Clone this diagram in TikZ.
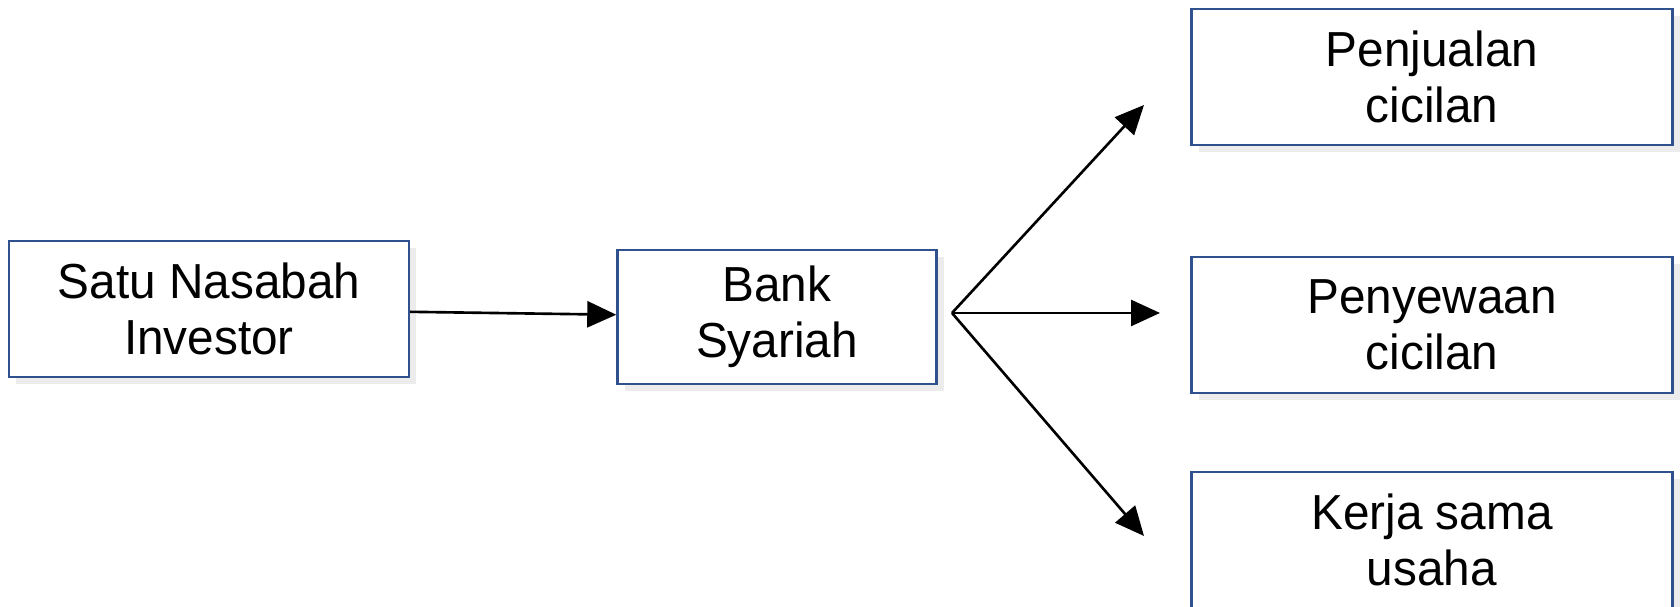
\documentclass[tikz,border=0pt]{standalone}
\usepackage{fontspec}
\setmainfont[FakeStretch=0.97]{Liberation Sans}
\usetikzlibrary{arrows.meta,shadows}
\definecolor{boxblue}{RGB}{47,82,143}

\begin{document}
\begin{tikzpicture}[x=0.1mm, y=-0.1mm,
    stage/.style={draw=boxblue, line width=0.7pt, fill=white, align=center,
        inner sep=0pt, minimum height=13.6mm, minimum width=48.1mm,
        font=\fontsize{14}{16}\selectfont,
        drop shadow={opacity=0.15, shadow xshift=0.7mm, shadow yshift=-0.7mm}},
    link/.style={line width=0.75pt, -{Triangle[length=2.9mm, width=2.6mm]}}]
    \useasboundingbox (0,0) rectangle (1680,607);

    \node[stage, minimum width=40mm] (investor) at (209,309) {Satu Nasabah\\Investor};
    \node[stage, minimum width=31.9mm, minimum height=13.4mm] (bank) at (777,317) {Bank\\Syariah};

    \node[stage] (jual) at (1432,77) {Penjualan\\cicilan};
    \node[stage] (sewa) at (1432,325) {Penyewaan\\cicilan};
    \node[stage] (kerja) at (1432,540) {Kerja sama\\usaha};

    \draw[link] (investor) -- (bank);

    \coordinate (fork) at (952,313);
    \coordinate (tipjual) at (1144,105);
    \coordinate (tipsewa) at (1160,313);
    \coordinate (tipkerja) at (1144,536);

    \foreach \tip in {tipjual,tipsewa,tipkerja}
        \draw[link] (fork) -- (\tip);
\end{tikzpicture}
\end{document}
